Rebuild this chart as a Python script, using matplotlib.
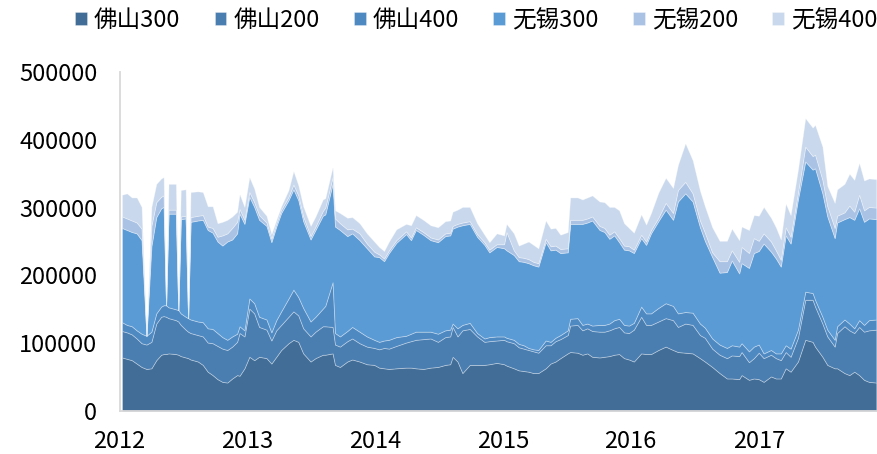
import numpy as np
import matplotlib
matplotlib.use('Agg')
import matplotlib.pyplot as plt
import matplotlib.dates as mdates

plt.rcParams['font.family'] = ['Noto Sans CJK SC', 'DejaVu Sans']

# week number counted from 2012-01-01
weeks = [1, 3, 5, 7, 9, 11, 13, 15, 17, 18,
         19, 20, 23, 24, 25, 27, 28, 29, 32, 34,
         36, 38, 40, 42, 44, 46, 48, 49, 51, 53,
         55, 57, 60, 62, 64, 66, 69, 71, 73, 75,
         78, 80, 83, 84, 87, 88, 90, 93, 95, 98,
         101, 104, 106, 108, 110, 113, 117, 119, 121, 124,
         127, 130, 133, 135, 136, 138, 140, 143, 146, 149,
         151, 154, 157, 158, 161, 163, 165, 167, 169, 171,
         174, 176, 178, 180, 183, 184, 187, 189, 191, 193,
         196, 198, 200, 202, 204, 206, 208, 210, 213, 215,
         217, 220, 223, 226, 228, 231, 234, 237, 239, 242,
         245, 248, 250, 253, 254, 257, 259, 261, 263, 266,
         268, 270, 272, 274, 277, 280, 283, 284, 287, 289,
         292, 293, 296, 298, 300, 302, 304, 306, 309]

# values in thousands
foshan_300 = [79, 77, 75, 70, 65, 62, 63, 75, 83, 84,
              84, 85, 84, 83, 81, 79, 78, 76, 73, 68,
              58, 53, 47, 43, 42, 48, 53, 52, 63, 80,
              75, 80, 78, 70, 80, 90, 100, 105, 102, 85,
              73, 78, 83, 83, 85, 68, 65, 73, 76, 73,
              69, 68, 64, 63, 62, 63, 64, 64, 63, 62,
              64, 65, 68, 69, 80, 73, 56, 68, 68, 68,
              69, 71, 69, 67, 63, 60, 59, 58, 56, 56,
              63, 70, 73, 78, 85, 87, 86, 83, 85, 80,
              79, 80, 81, 83, 84, 78, 76, 73, 85, 84,
              84, 90, 95, 90, 87, 86, 85, 78, 73, 65,
              56, 48, 48, 47, 53, 46, 48, 47, 43, 51,
              48, 48, 63, 58, 73, 105, 102, 95, 80, 68,
              63, 63, 56, 53, 58, 53, 46, 43, 42]
foshan_200 = [39, 39, 38, 37, 35, 36, 39, 54, 56, 56,
              55, 52, 50, 49, 46, 41, 39, 39, 39, 42,
              43, 47, 49, 49, 48, 47, 49, 63, 47, 71,
              69, 44, 42, 34, 39, 37, 39, 42, 39, 37,
              37, 39, 42, 42, 39, 30, 30, 30, 31, 27,
              26, 25, 27, 30, 30, 33, 37, 39, 42, 44,
              43, 37, 41, 41, 44, 37, 63, 53, 42, 34,
              34, 33, 36, 36, 37, 34, 33, 32, 32, 30,
              34, 27, 30, 28, 27, 39, 41, 36, 37, 38,
              38, 37, 38, 39, 40, 38, 39, 47, 54, 43,
              43, 42, 42, 44, 37, 43, 42, 34, 35, 27,
              27, 30, 34, 34, 34, 26, 30, 39, 35, 32,
              30, 27, 24, 22, 35, 59, 62, 59, 49, 42,
              32, 52, 69, 66, 57, 71, 71, 76, 78]
foshan_400 = [13, 11, 12, 12, 14, 13, 15, 15, 15, 16,
              17, 16, 16, 17, 17, 19, 20, 20, 20, 21,
              21, 21, 19, 17, 15, 15, 12, 10, 9, 15,
              15, 15, 15, 12, 15, 20, 27, 32, 27, 30,
              22, 22, 26, 30, 66, 17, 15, 15, 17, 17,
              15, 12, 11, 11, 13, 13, 10, 11, 12, 11,
              10, 12, 10, 10, 5, 12, 8, 9, 5, 5,
              6, 6, 5, 5, 5, 5, 5, 3, 3, 4,
              7, 5, 5, 6, 7, 10, 10, 8, 7, 8,
              10, 10, 10, 12, 12, 11, 11, 10, 15, 17,
              17, 20, 22, 21, 20, 17, 18, 17, 15, 15,
              15, 15, 15, 14, 13, 16, 17, 12, 7, 7,
              7, 10, 10, 12, 12, 12, 10, 10, 10, 10,
              10, 10, 10, 10, 7, 10, 10, 15, 15]
wuxi_300 = [139, 140, 139, 143, 138, 0, 126, 142, 145, 145,
            0, 138, 141, 0, 139, 145, 0, 144, 149, 151,
            145, 142, 135, 135, 145, 143, 148, 166, 157, 150,
            142, 143, 138, 133, 138, 145, 145, 148, 143, 128,
            121, 128, 137, 135, 145, 157, 157, 140, 138, 135,
            130, 123, 125, 117, 128, 139, 150, 138, 150, 143,
            135, 135, 139, 139, 140, 150, 147, 146, 142, 138,
            125, 132, 130, 129, 125, 122, 123, 125, 124, 123,
            145, 135, 130, 121, 115, 140, 139, 149, 149, 155,
            140, 137, 125, 125, 113, 111, 111, 103, 101, 101,
            118, 128, 138, 127, 165, 175, 164, 142, 128, 120,
            106, 112, 125, 108, 118, 123, 138, 138, 162, 145,
            140, 128, 162, 155, 192, 192, 182, 194, 182, 167,
            150, 153, 148, 157, 160, 165, 152, 150, 148]
wuxi_200 = [17, 17, 17, 16, 17, 0, 30, 22, 17, 17,
            0, 6, 6, 0, 4, 4, 0, 7, 7, 7,
            5, 7, 7, 15, 12, 17, 17, 7, 6, 7,
            7, 7, 5, 5, 5, 5, 5, 7, 7, 7,
            5, 5, 7, 10, 10, 12, 10, 10, 7, 10,
            7, 7, 4, 4, 4, 4, 4, 4, 4, 4,
            4, 4, 4, 4, 4, 4, 4, 4, 4, 4,
            4, 4, 6, 27, 7, 6, 6, 6, 5, 5,
            5, 6, 6, 6, 6, 6, 6, 6, 6, 6,
            6, 6, 6, 6, 6, 6, 6, 5, 5, 5,
            5, 5, 10, 10, 17, 17, 12, 10, 12, 7,
            17, 16, 15, 17, 24, 22, 22, 15, 15, 15,
            12, 10, 12, 10, 10, 22, 20, 20, 20, 15,
            15, 10, 10, 17, 12, 20, 17, 17, 17]
wuxi_400 = [32, 37, 34, 37, 32, 0, 28, 27, 27, 27,
            0, 38, 38, 0, 39, 39, 0, 37, 36, 34,
            30, 32, 20, 20, 20, 17, 15, 22, 19, 22,
            20, 12, 10, 7, 5, 5, 10, 20, 15, 15,
            15, 15, 17, 14, 15, 12, 15, 17, 17, 15,
            15, 15, 11, 11, 13, 16, 11, 18, 18, 18,
            18, 18, 18, 18, 21, 21, 23, 21, 16, 11,
            11, 16, 13, 12, 25, 17, 21, 26, 25, 22,
            27, 26, 26, 21, 24, 33, 33, 30, 31, 31,
            36, 38, 41, 36, 41, 33, 27, 25, 30, 25,
            25, 37, 37, 37, 37, 57, 49, 44, 39, 37,
            30, 30, 32, 32, 30, 34, 34, 37, 39, 35,
            34, 30, 35, 32, 34, 42, 42, 44, 49, 30,
            37, 39, 42, 47, 47, 47, 44, 42, 42]

labels = ['佛山300', '佛山200', '佛山400', '无锡300', '无锡200', '无锡400']
colors = ['#416D97', '#4A7DB0', '#4F89C2', '#5B9BD5', '#AAC3E5', '#C9D8EC']

start = np.datetime64('2012-01-01')
dates = start + np.array(weeks) * np.timedelta64(7, 'D')
series = [np.array(s) * 1000 for s in
          (foshan_300, foshan_200, foshan_400, wuxi_300, wuxi_200, wuxi_400)]

fig = plt.figure(figsize=(8.77, 4.54), dpi=100)
ax = fig.add_axes([0.1363, 0.0947, 0.8637, 0.7467])
ax.stackplot(dates, *series, labels=labels, colors=colors,
             edgecolor=(1, 1, 1, 0.35), linewidth=0.6)

ax.set_ylim(0, 500000)
ax.set_xlim(start, start + np.timedelta64(2165, 'D'))
ax.set_yticks(range(0, 500001, 100000))
ax.yaxis.set_major_formatter(plt.FuncFormatter(lambda v, p: f'{v:.0f}'))
ax.xaxis.set_major_locator(mdates.YearLocator())
ax.xaxis.set_major_formatter(mdates.DateFormatter('%Y'))
ax.tick_params(axis='y', length=0, labelsize=17, pad=16)
ax.tick_params(axis='x', length=0, labelsize=17, pad=14)

for side in ['top', 'right']:
    ax.spines[side].set_visible(False)
for side in ['left', 'bottom']:
    ax.spines[side].set_color('#D9D9D9')
    ax.spines[side].set_linewidth(1.3)

fig.legend(loc='upper left', bbox_to_anchor=(75 / 877, 1 - 9 / 454), ncol=6,
           frameon=False, fontsize=17, handlelength=0.5, handleheight=0.5,
           handletextpad=0.3, columnspacing=1.45, borderpad=0, borderaxespad=0)

fig.savefig('out.png', dpi=100)
